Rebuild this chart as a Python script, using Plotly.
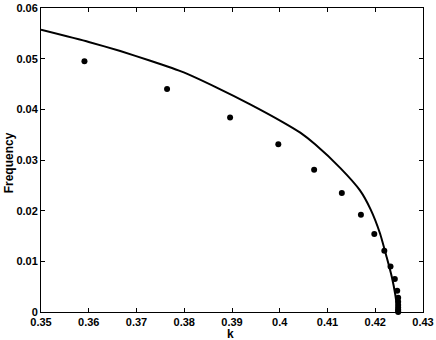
import plotly.graph_objects as go

# continuous curve
curve_k = [0.35, 0.36, 0.3666, 0.3729, 0.3799, 0.3868, 0.3938, 0.4008, 0.4043,
           0.4074, 0.4127, 0.4168, 0.4190, 0.4210, 0.4224, 0.4235, 0.4242, 0.4247]
curve_f = [0.0557, 0.0533, 0.0515, 0.0496, 0.0473, 0.0443, 0.0410, 0.0374, 0.0354,
           0.0331, 0.0284, 0.0240, 0.0203, 0.0155, 0.0108, 0.0068, 0.0034, 0.0]

# dots
dot_k = [0.3591, 0.3764, 0.3896, 0.3997, 0.4072, 0.4130, 0.4170, 0.4198,
         0.4219, 0.4232, 0.4241, 0.4246, 0.4248, 0.4248, 0.4248, 0.4248,
         0.4248, 0.4248, 0.4248]
dot_f = [0.0495, 0.0440, 0.0384, 0.0331, 0.0281, 0.0235, 0.0192, 0.0154,
         0.0121, 0.0090, 0.0065, 0.0042, 0.0028, 0.0020, 0.0014, 0.0009,
         0.0005, 0.0002, 0.0]

x_ticks = [0.35, 0.36, 0.37, 0.38, 0.39, 0.40, 0.41, 0.42, 0.43]
x_labels = ["0.35", "0.36", "0.37", "0.38", "0.39", "0.4", "0.41", "0.42", "0.43"]
y_ticks = [0, 0.01, 0.02, 0.03, 0.04, 0.05, 0.06]
y_labels = ["0", "0.01", "0.02", "0.03", "0.04", "0.05", "0.06"]

FONT = "Liberation Sans, Arial, sans-serif"

fig = go.Figure()
fig.add_trace(go.Scatter(x=curve_k, y=curve_f, mode="lines",
                         line=dict(color="black", width=2, shape="spline", smoothing=0.5),
                         showlegend=False, cliponaxis=False))
fig.add_trace(go.Scatter(x=dot_k, y=dot_f, mode="markers",
                         marker=dict(color="black", size=6),
                         showlegend=False, cliponaxis=False))

axis_common = dict(showgrid=False, zeroline=False, showline=True, linecolor="black",
                   linewidth=1, mirror="ticks", ticks="inside", ticklen=4,
                   tickcolor="black", automargin=False,
                   tickfont=dict(family=FONT, size=11, color="black"))

fig.update_layout(
    width=436, height=340,
    paper_bgcolor="white", plot_bgcolor="white",
    margin=dict(l=41, r=13, t=8, b=28),
    font=dict(family=FONT, color="black"),
    xaxis=dict(range=[0.35, 0.43], tickvals=x_ticks,
               ticktext=[f"<b>{t}</b>" for t in x_labels], **axis_common),
    yaxis=dict(range=[0, 0.06], tickvals=y_ticks,
               ticktext=[f"<b>{t}</b>" for t in y_labels], **axis_common),
    annotations=[
        dict(text="<b>k</b>", xref="paper", yref="paper", x=0.497, y=-0.071,
             xanchor="center", yanchor="middle", showarrow=False,
             font=dict(family=FONT, size=12, color="black")),
        dict(text="<b>Frequency</b>", xref="paper", yref="paper", x=-0.083, y=0.49,
             xanchor="center", yanchor="middle", textangle=-90, showarrow=False,
             font=dict(family=FONT, size=12, color="black")),
    ],
)

# page body has a default 8px margin; drop it so the figure fills the window
fig.write_html("out.html", config={"displayModeBar": False},
               post_script="document.body.style.margin='0';")
